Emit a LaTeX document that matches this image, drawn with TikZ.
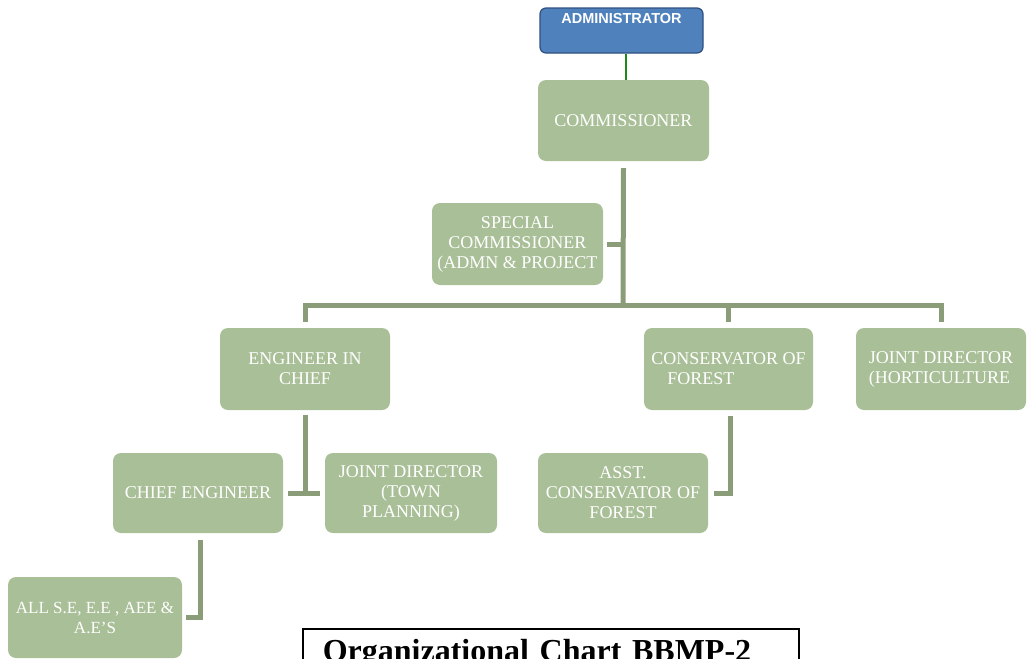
\documentclass[tikz,border=0pt]{standalone}
\usepackage{fontspec}
\setmainfont{Liberation Serif}
\newfontfamily\headsans{Liberation Sans}
\definecolor{boxgreen}{HTML}{A9BF97}
\definecolor{linkgreen}{HTML}{8A9D78}
\definecolor{adminblue}{HTML}{4F81BD}
\definecolor{adminedge}{HTML}{2F4F7F}
\definecolor{adminlink}{HTML}{1A8A1A}
\begin{document}
\begin{tikzpicture}[x=1pt,y=-1pt,
  orgbox/.style={fill=boxgreen, rounded corners=8pt, text=white, align=center,
    font=\fontsize{18}{20}\selectfont, inner sep=0pt},
  conn/.style={draw=linkgreen, line width=5pt},
]
\useasboundingbox (0,0) rectangle (1029,659);
\clip (0,0) rectangle (1029,659);

% top of the hierarchy
\node[fill=adminblue, draw=adminedge, line width=1.2pt, rounded corners=6pt,
  minimum width=163pt, minimum height=45pt, inner sep=0pt] (admin) at (621.5,30.5) {};
\node[text=white, font=\headsans\bfseries\fontsize{14.5}{16}\selectfont, anchor=center]
  (admintext) at (621.5,19) {ADMINISTRATOR};
\node[orgbox, minimum width=171pt, minimum height=81pt] (comm) at (623.5,120.5) {COMMISSIONER};
\node[orgbox, minimum width=171pt, minimum height=82pt] (spec) at (517.5,244)
  {SPECIAL\\COMMISSIONER\\(ADMN \& PROJECT};

% second level
\node[orgbox, minimum width=170pt, minimum height=82pt] (eic) at (305,369) {ENGINEER IN\\CHIEF};
\node[orgbox, minimum width=169pt, minimum height=82pt, align=left] (cons) at (728.5,369)
  {CONSERVATOR OF\\\hspace{16pt}FOREST};
\node[orgbox, minimum width=170pt, minimum height=82pt, align=left] (hort) at (941,369)
  {JOINT DIRECTOR\\(HORTICULTURE};

% third level
\node[orgbox, minimum width=170pt, minimum height=80pt] (chief) at (198,493) {CHIEF ENGINEER};
\node[orgbox, minimum width=172pt, minimum height=80pt] (jdtp) at (411,493)
  {JOINT DIRECTOR\\(TOWN\\PLANNING)};
\node[orgbox, minimum width=170pt, minimum height=80pt] (asst) at (623,493)
  {ASST.\\CONSERVATOR OF\\FOREST};

% fourth level
\node[orgbox, minimum width=174pt, minimum height=81pt, font=\fontsize{17}{20}\selectfont]
  (alls) at (95,617.5) {ALL S.E, E.E , AEE \&\\A.E’S};

% connectors
\draw[draw=adminlink, line width=2.5pt] ([xshift=4.5pt]admin.south) -- ([xshift=2.5pt]comm.north);
\coordinate (bus) at (623,305);
\draw[conn] ([yshift=-7pt]comm.south) -- (bus);
\draw[conn] ([xshift=4pt]spec.east) -- (spec.east -| bus);
\draw[conn] ([yshift=6pt]eic.north) |- (bus) -| ([yshift=6pt]hort.north);
\draw[conn] ([yshift=6pt]cons.north) -- (cons.north |- bus);
\coordinate (tee) at (305,493);
\draw[conn] ([yshift=-5pt]eic.south) -- (tee);
\draw[conn] ([xshift=5pt]chief.east) -- ([xshift=-5pt]jdtp.west);
\draw[conn] ([xshift=2pt,yshift=-7pt]chief.south) |- ([xshift=4pt]alls.east);
\draw[conn] ([xshift=1.5pt,yshift=-6pt]cons.south) |- ([xshift=6pt]asst.east);

% caption frame
\node[draw=black, line width=1.5pt, anchor=north west, inner xsep=20pt, inner ysep=11pt,
  text width=456pt, align=left, font=\bfseries\fontsize{32}{36}\selectfont]
  (title) at (302,628) {Organizational Chart BBMP-2};
\end{tikzpicture}
\end{document}
